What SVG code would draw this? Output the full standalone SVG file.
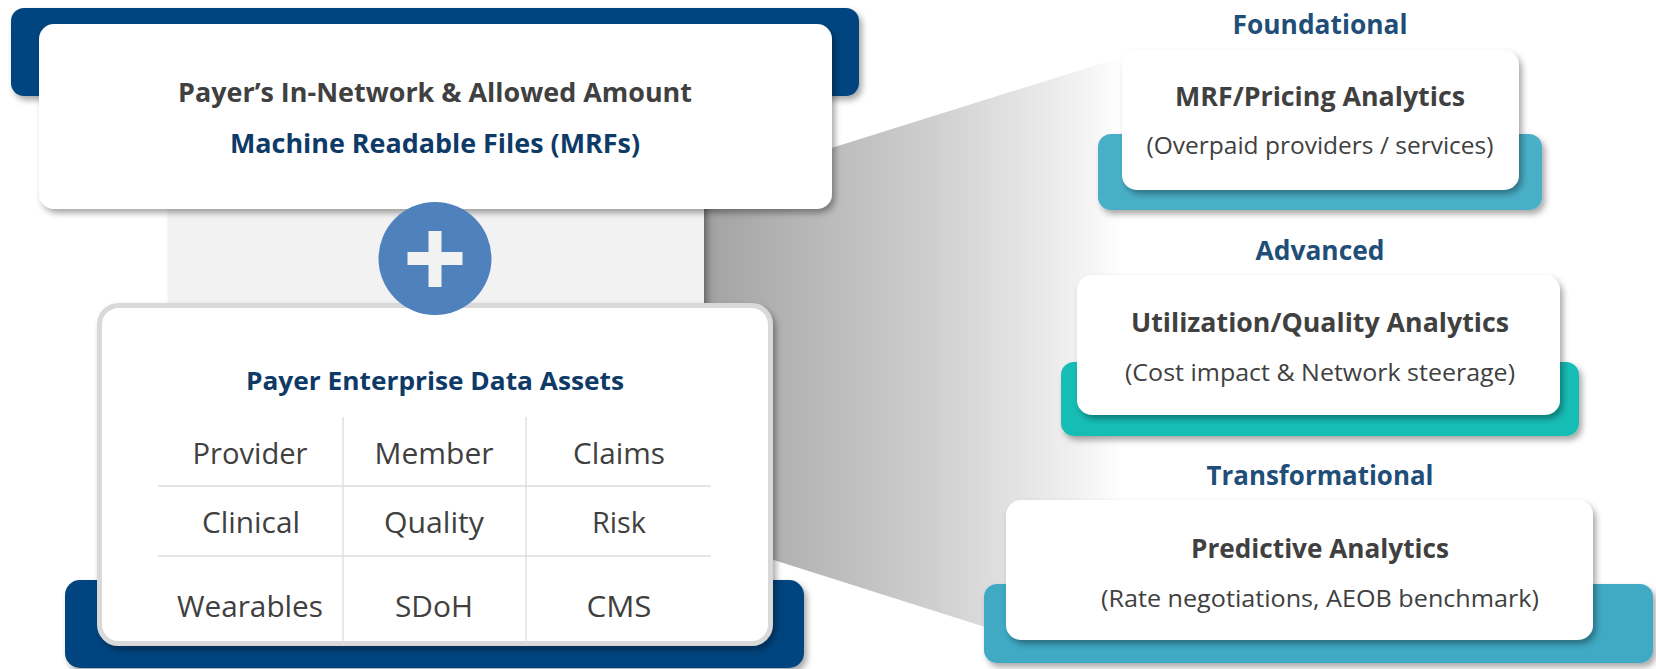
<svg xmlns="http://www.w3.org/2000/svg" width="1656" height="669" viewBox="0 0 1656 669">
<defs>
<linearGradient id="wedge" x1="704" y1="0" x2="1122" y2="0" gradientUnits="userSpaceOnUse">
<stop offset="0" stop-color="#9a9a9a"/>
<stop offset="0.04" stop-color="#a6a6a6"/>
<stop offset="0.55" stop-color="#cfcfcf"/>
<stop offset="0.9" stop-color="#f2f2f2"/>
<stop offset="1" stop-color="#ffffff"/>
</linearGradient>
<filter id="sh" x="-10%" y="-10%" width="125%" height="140%">
<feDropShadow dx="3" dy="4" stdDeviation="3" flood-color="#000" flood-opacity="0.35"/>
</filter>
<style>
.t{font-family:"Open Sans","Noto Sans","Liberation Sans",sans-serif;text-anchor:middle}
.b{font-weight:700}
.g{fill:#404040}
.n{fill:#0e3a68}
.lv{fill:#1f4e79;font-weight:700;font-size:26px}
.cell{font-size:30px;fill:#404040}
.sub{font-size:23px;fill:#404040}
.card{fill:#ffffff}
.grid{stroke:#dcdcdc;stroke-width:1.3}
</style>
</defs>

<g id="background">
<polygon points="704,188 1122,57 1122,500 985,627 704,538" fill="url(#wedge)"/>
<rect x="169" y="200" width="535" height="110" fill="#f2f2f2" filter="url(#sh)"/>
</g>

<g id="mrf-source">
<rect x="11" y="8" width="848" height="88" rx="13" fill="#03457f" filter="url(#sh)"/>
<rect x="39" y="24" width="793" height="185" rx="15" class="card" filter="url(#sh)"/>
<text x="435" y="102" class="t b g" font-size="27" textLength="514" lengthAdjust="spacingAndGlyphs">Payer’s In-Network &amp; Allowed Amount</text>
<text x="435" y="153" class="t b n" font-size="27" textLength="410" lengthAdjust="spacingAndGlyphs">Machine Readable Files (MRFs)</text>
</g>

<g id="enterprise-data">
<rect x="65" y="580" width="739" height="88" rx="15" fill="#03457f" filter="url(#sh)"/>
<rect x="99.5" y="305.5" width="671" height="338" rx="19" class="card" stroke="#d9d9d9" stroke-width="5" filter="url(#sh)"/>
<text x="435" y="390" class="t b n" font-size="25" textLength="378" lengthAdjust="spacingAndGlyphs">Payer Enterprise Data Assets</text>
<line class="grid" x1="158" y1="486" x2="711" y2="486"/>
<line class="grid" x1="158" y1="556" x2="711" y2="556"/>
<line class="grid" x1="343" y1="417" x2="343" y2="646"/>
<line class="grid" x1="526" y1="417" x2="526" y2="646"/>
<text x="250" y="464" class="t cell" textLength="115" lengthAdjust="spacingAndGlyphs">Provider</text>
<text x="434" y="464" class="t cell" textLength="119" lengthAdjust="spacingAndGlyphs">Member</text>
<text x="619" y="464" class="t cell" textLength="92" lengthAdjust="spacingAndGlyphs">Claims</text>
<text x="251" y="533" class="t cell" textLength="98" lengthAdjust="spacingAndGlyphs">Clinical</text>
<text x="434" y="533" class="t cell" textLength="100" lengthAdjust="spacingAndGlyphs">Quality</text>
<text x="619" y="533" class="t cell" textLength="54" lengthAdjust="spacingAndGlyphs">Risk</text>
<text x="250" y="617" class="t cell" textLength="146" lengthAdjust="spacingAndGlyphs">Wearables</text>
<text x="434" y="617" class="t cell" textLength="78" lengthAdjust="spacingAndGlyphs">SDoH</text>
<text x="619" y="617" class="t cell" textLength="65" lengthAdjust="spacingAndGlyphs">CMS</text>
</g>

<g id="plus">
<circle cx="435" cy="258.5" r="56.5" fill="#4f81bd"/>
<rect x="428.5" y="231" width="13" height="56" fill="#f2f2f2"/>
<rect x="407.5" y="252" width="55" height="13" fill="#f2f2f2"/>
</g>

<g id="foundational">
<text x="1320" y="34" class="t lv" textLength="175" lengthAdjust="spacingAndGlyphs">Foundational</text>
<rect x="1098" y="134" width="444" height="76" rx="13" fill="#48afc7" filter="url(#sh)"/>
<rect x="1122" y="50" width="397" height="140" rx="15" class="card" filter="url(#sh)"/>
<text x="1320" y="106" class="t b g" font-size="27" textLength="290" lengthAdjust="spacingAndGlyphs">MRF/Pricing Analytics</text>
<text x="1320" y="154" class="t sub" textLength="347" lengthAdjust="spacingAndGlyphs">(Overpaid providers / services)</text>
</g>

<g id="advanced">
<text x="1320" y="260" class="t lv" textLength="129" lengthAdjust="spacingAndGlyphs">Advanced</text>
<rect x="1061" y="362" width="518" height="74" rx="13" fill="#17bdb5" filter="url(#sh)"/>
<rect x="1077" y="275" width="483" height="140" rx="15" class="card" filter="url(#sh)"/>
<text x="1320" y="332" class="t b g" font-size="27" textLength="378" lengthAdjust="spacingAndGlyphs">Utilization/Quality Analytics</text>
<text x="1320" y="381" class="t sub" textLength="390" lengthAdjust="spacingAndGlyphs">(Cost impact &amp; Network steerage)</text>
</g>

<g id="transformational">
<text x="1320" y="485" class="t lv" textLength="227" lengthAdjust="spacingAndGlyphs">Transformational</text>
<rect x="984" y="584" width="669" height="79" rx="13" fill="#3fa9c4" filter="url(#sh)"/>
<rect x="1006" y="500" width="587" height="140" rx="15" class="card" filter="url(#sh)"/>
<text x="1320" y="558" class="t b g" font-size="27" textLength="258" lengthAdjust="spacingAndGlyphs">Predictive Analytics</text>
<text x="1320" y="607" class="t sub" textLength="438" lengthAdjust="spacingAndGlyphs">(Rate negotiations, AEOB benchmark)</text>
</g>

<g id="connectors"></g>
</svg>
